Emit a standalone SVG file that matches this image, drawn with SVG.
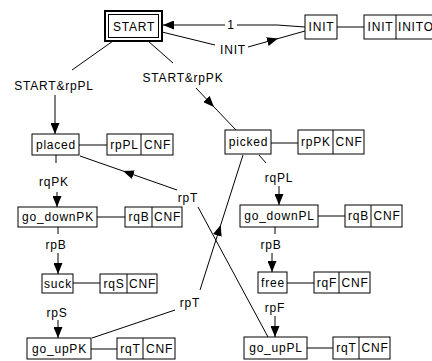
<svg xmlns="http://www.w3.org/2000/svg" width="432" height="361" viewBox="0 0 432 361">
<defs>
<marker id="ah" markerUnits="userSpaceOnUse" markerWidth="11" markerHeight="9" refX="11" refY="4.5" orient="auto"><path d="M0,0 L11,4.5 L0,9 z" fill="#000"/></marker>
<style>
rect{fill:#fff;stroke:#000;stroke-width:1}
line,polyline{stroke:#000;stroke-width:1;fill:none}
text{font-family:"Liberation Sans",Arial,sans-serif;font-size:12px;letter-spacing:0.8px;fill:#000;text-anchor:middle}
.a{marker-end:url(#ah)}
</style>
</defs>
<rect x="0" y="0" width="432" height="361" style="fill:#fff;stroke:none"/>
<g id="connectors">
<line x1="225" y1="25" x2="163" y2="25" class="a"/>
<polyline points="237,25 277,25 305,27"/>
<text x="231" y="29">1</text>
<line x1="162" y1="32" x2="215" y2="45"/>
<text x="233" y="54">INIT</text>
<line x1="248" y1="47" x2="278" y2="38.6" class="a"/>
<line x1="278" y1="38.6" x2="305" y2="31"/>
<line x1="113" y1="41" x2="72" y2="70"/>
<text x="54" y="90">START&amp;rpPL</text>
<line x1="55" y1="95" x2="55" y2="134" class="a"/>
<line x1="148" y1="41" x2="173" y2="63"/>
<text x="183" y="82">START&amp;rpPK</text>
<line x1="196" y1="88" x2="214" y2="107" class="a"/>
<line x1="214" y1="107" x2="236" y2="130"/>
<line x1="56" y1="155" x2="56" y2="163"/>
<text x="54" y="186">rqPK</text>
<line x1="57" y1="192" x2="57" y2="207" class="a"/>
<line x1="58" y1="227" x2="58" y2="234"/>
<text x="56" y="249">rpB</text>
<line x1="58" y1="253" x2="58" y2="274" class="a"/>
<text x="57" y="317">rpS</text>
<line x1="58" y1="320" x2="58" y2="338" class="a"/>
<line x1="259" y1="155" x2="266" y2="163"/>
<text x="279" y="182">rqPL</text>
<line x1="279" y1="186" x2="279" y2="205" class="a"/>
<line x1="275" y1="227" x2="275" y2="234"/>
<text x="271" y="249">rpB</text>
<line x1="272" y1="253" x2="272" y2="272" class="a"/>
<text x="275" y="312">rpF</text>
<line x1="275" y1="316" x2="275" y2="337" class="a"/>
<line x1="268" y1="337" x2="198" y2="207"/>
<text x="188" y="202">rpT</text>
<line x1="177" y1="190" x2="123" y2="171" class="a"/>
<line x1="123" y1="171" x2="80" y2="156"/>
<line x1="92" y1="338" x2="175" y2="310"/>
<text x="190" y="307">rpT</text>
<line x1="200" y1="290" x2="220.7" y2="225" class="a"/>
<line x1="220.7" y1="225" x2="243" y2="155"/>
</g>
<g id="START">
<rect x="105" y="11" width="57" height="30" style="stroke-width:2"/>
<rect x="108.5" y="14.5" width="50" height="23"/>
<text x="134" y="31">START</text>
</g>
<g id="INIT">
<rect x="305" y="15" width="32" height="24"/>
<text x="321.5" y="31">INIT</text>
<line x1="337" y1="27" x2="364" y2="27"/>
<rect x="364" y="15" width="80" height="24"/>
<line x1="396" y1="15" x2="396" y2="39"/>
<text x="380.5" y="31">INIT</text>
<text x="398" y="31" style="text-anchor:start">INITO</text>
</g>
<g id="placed">
<rect x="32" y="134" width="47" height="21"/>
<text x="56" y="149">placed</text>
<line x1="79" y1="145" x2="107" y2="145"/>
<rect x="107" y="134" width="66" height="21"/>
<line x1="141" y1="134" x2="141" y2="155"/>
<text x="124.5" y="149">rpPL</text>
<text x="157.5" y="149">CNF</text>
</g>
<g id="go_downPK">
<rect x="18" y="207" width="79" height="20"/>
<text x="58" y="221">go_downPK</text>
<line x1="97" y1="217" x2="125" y2="217"/>
<rect x="125" y="207" width="57" height="20"/>
<line x1="152" y1="207" x2="152" y2="227"/>
<text x="139" y="221">rqB</text>
<text x="167.5" y="221">CNF</text>
</g>
<g id="suck">
<rect x="42" y="274" width="31" height="19"/>
<text x="58" y="288">suck</text>
<line x1="73" y1="283" x2="100" y2="283"/>
<rect x="100" y="274" width="57" height="19"/>
<line x1="127" y1="274" x2="127" y2="293"/>
<text x="114" y="288">rqS</text>
<text x="142.5" y="288">CNF</text>
</g>
<g id="go_upPK">
<rect x="27" y="338" width="64" height="21"/>
<text x="59.5" y="353">go_upPK</text>
<line x1="91" y1="349" x2="117" y2="349"/>
<rect x="117" y="338" width="58" height="21"/>
<line x1="143" y1="338" x2="143" y2="359"/>
<text x="130.5" y="353">rqT</text>
<text x="159.5" y="353">CNF</text>
</g>
<g id="picked">
<rect x="225" y="130" width="46" height="24"/>
<text x="248.5" y="146">picked</text>
<line x1="271" y1="143" x2="298" y2="143"/>
<rect x="298" y="130" width="66" height="24"/>
<line x1="333" y1="130" x2="333" y2="154"/>
<text x="316" y="146">rpPK</text>
<text x="349" y="146">CNF</text>
</g>
<g id="go_downPL">
<rect x="240" y="205" width="78" height="22"/>
<text x="279.5" y="220">go_downPL</text>
<line x1="318" y1="216" x2="345" y2="216"/>
<rect x="345" y="205" width="57" height="22"/>
<line x1="371" y1="205" x2="371" y2="227"/>
<text x="358.5" y="220">rqB</text>
<text x="387" y="220">CNF</text>
</g>
<g id="free">
<rect x="258" y="272" width="29" height="21"/>
<text x="273" y="287">free</text>
<line x1="287" y1="283" x2="314" y2="283"/>
<rect x="314" y="272" width="56" height="21"/>
<line x1="339" y1="272" x2="339" y2="293"/>
<text x="327" y="287">rqF</text>
<text x="355" y="287">CNF</text>
</g>
<g id="go_upPL">
<rect x="244" y="337" width="63" height="22"/>
<text x="276" y="352">go_upPL</text>
<line x1="307" y1="348" x2="333" y2="348"/>
<rect x="333" y="337" width="57" height="22"/>
<line x1="359" y1="337" x2="359" y2="359"/>
<text x="346.5" y="352">rqT</text>
<text x="375" y="352">CNF</text>
</g>
</svg>
